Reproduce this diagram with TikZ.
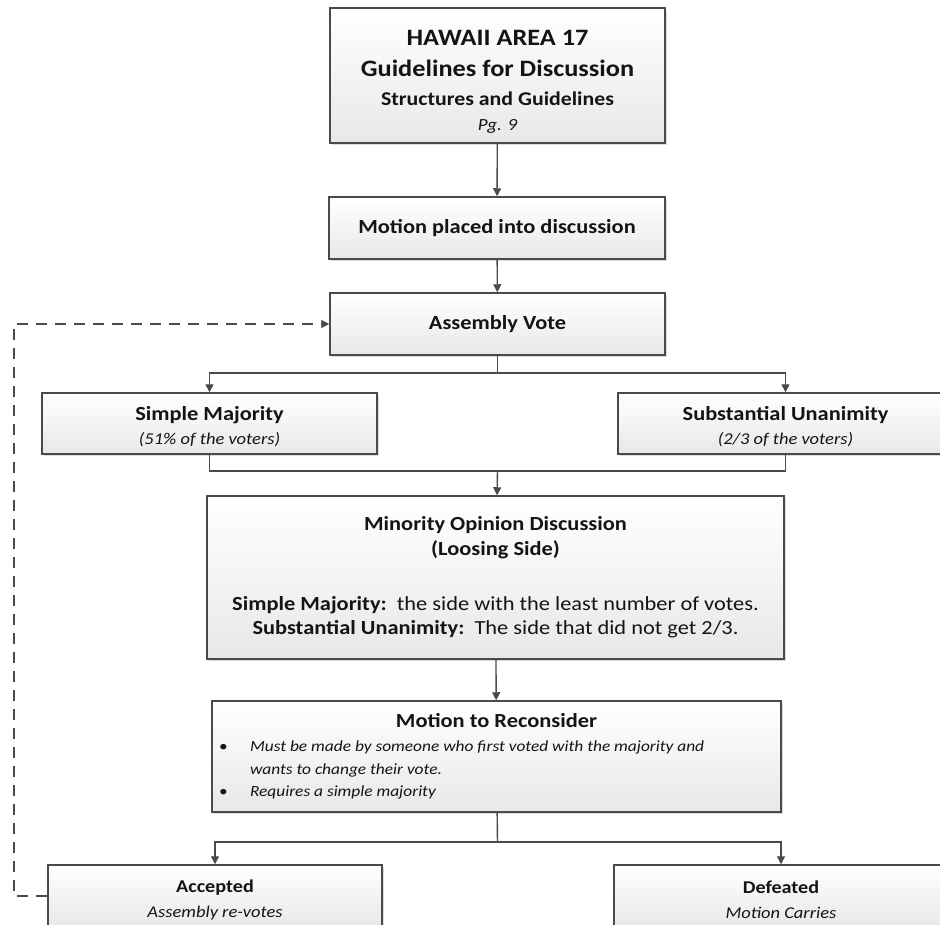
\documentclass[tikz,border=0pt]{standalone}
\usepackage{fontspec}
\setmainfont{Carlito}[FakeStretch=1.12]
\usetikzlibrary{arrows.meta,shadows}
\definecolor{boxline}{HTML}{4A4A4A}
\definecolor{boxfill}{HTML}{E8E8E8}
\newcommand{\sizeto}[2]{\fontsize{#1}{#2}\selectfont\lineskiplimit=-30pt}
\newcommand{\lift}[1]{\rule{0pt}{#1}}
\tikzset{
  flowbox/.style={draw=boxline, line width=1.5pt, top color=white, bottom color=boxfill,
    drop shadow={shadow xshift=2pt, shadow yshift=-2pt, fill=black!35, opacity=0.4},
    align=center, inner sep=0pt, text=black!92, font=\sizeto{20}{24}},
  link/.style={draw=boxline, line width=1.4pt},
  arr/.style={link, -{Triangle[width=8pt,length=8pt]}},
  loopback/.style={arr, dash pattern=on 11pt off 8pt},
}
\begin{document}
\begin{tikzpicture}[x=1pt,y=-1pt]
			\useasboundingbox (0,0) rectangle (940,924);
			\clip (0,0) rectangle (940,924);
			\fill[white] (0,0) rectangle (940,924);
			
			%%%%% BOXES %%%%%
			\node[flowbox, font=\sizeto{20}{25}, minimum width=335pt, minimum height=135pt] (head) at (497.5,75.5)
				{{\fontsize{23.5}{25}\selectfont\bfseries\lift{27pt}HAWAII AREA 17}\\[6pt]
				 {\fontsize{23.5}{25}\selectfont\bfseries Guidelines for Discussion}\\[4pt]
				 {\fontsize{19.5}{25}\selectfont\bfseries Structures and Guidelines}\\
				 {\fontsize{17}{25}\selectfont\itshape Pg. 9}};
			\node[flowbox, minimum width=336pt, minimum height=62pt] (placed) at (497,228)
				{\bfseries Motion placed into discussion};
			\node[flowbox, minimum width=335pt, minimum height=62pt] (vote) at (497.5,324)
				{\bfseries Assembly Vote};
			
			\node[flowbox, minimum width=335pt, minimum height=61pt] (simple) at (209.5,423.5)
				{\bfseries\lift{21pt}Simple Majority\\ {\fontsize{16.5}{20}\selectfont\itshape (51\% of the voters)}};
			\node[flowbox, minimum width=335pt, minimum height=61pt] (subst) at (785.5,423.5)
				{\bfseries\lift{21pt}Substantial Unanimity\\ {\fontsize{16.5}{20}\selectfont\itshape (2/3 of the voters)}};
			
			\node[flowbox, font=\sizeto{20}{24.5}, minimum width=577pt, minimum height=163pt] (minority) at (495.5,577.5)
				{\bfseries Minority Opinion Discussion\\ \bfseries (Loosing Side)\\[30.5pt]
				 \textbf{Simple Majority:}\ \ the side with the least number of votes.\\
				 \textbf{Substantial Unanimity:}\ \ The side that did not get 2/3.};
			
			\node[flowbox, font=\sizeto{20}{22.5}, minimum width=569pt, minimum height=111pt] (reconsider) at (496.5,756.5)
				{\bfseries Motion to Reconsider\\[1.5pt]
				 \makebox[555pt][l]{\fontsize{15.5}{20}\selectfont\makebox[31pt][l]{\textbullet}\itshape Must be made by someone who first voted with the majority and}\\
				 \makebox[555pt][l]{\fontsize{15.5}{20}\selectfont\hspace*{31pt}\itshape wants to change their vote.}\\
				 \makebox[555pt][l]{\fontsize{15.5}{20}\selectfont\makebox[31pt][l]{\textbullet}\itshape Requires a simple majority}};
			
			\node[flowbox, font=\sizeto{18}{25}, minimum width=334pt, minimum height=62pt] (accepted) at (215,896)
				{\bfseries\lift{21pt}Accepted\\ {\fontsize{16.5}{20}\selectfont\itshape Assembly re-votes}};
			\node[flowbox, font=\sizeto{18}{25}, minimum width=334pt, minimum height=62pt] (defeated) at (781,896)
				{\bfseries\lift{21pt}Defeated\\ {\fontsize{16.5}{20}\selectfont\itshape Motion Carries}};
			
			%%%%% CONNECTORS %%%%%
			\coordinate (split) at (497.5,373);
			\coordinate (merge) at (497.5,471);
			\coordinate (fork) at (497.5,842);
			\coordinate (bend) at (14,896);
			
			\draw[arr] (head) -- (placed);
			\draw[arr] (placed) -- (vote);
			\draw[link] (vote) -- (split);
			\draw[arr] (split) -| (simple.north);
			\draw[arr] (split) -| (subst.north);
			\draw[link] (simple.south) |- (merge) -| (subst.south);
			\draw[arr] (merge) -- (minority);
			\draw[arr] (minority) -- (reconsider);
			\draw[link] (reconsider) -- (fork);
			\draw[arr] (fork) -| (accepted.north);
			\draw[arr] (fork) -| (defeated.north);
			\draw[loopback] (accepted.west) -- (bend) |- (vote.west);
			
		\end{tikzpicture}
\end{document}
